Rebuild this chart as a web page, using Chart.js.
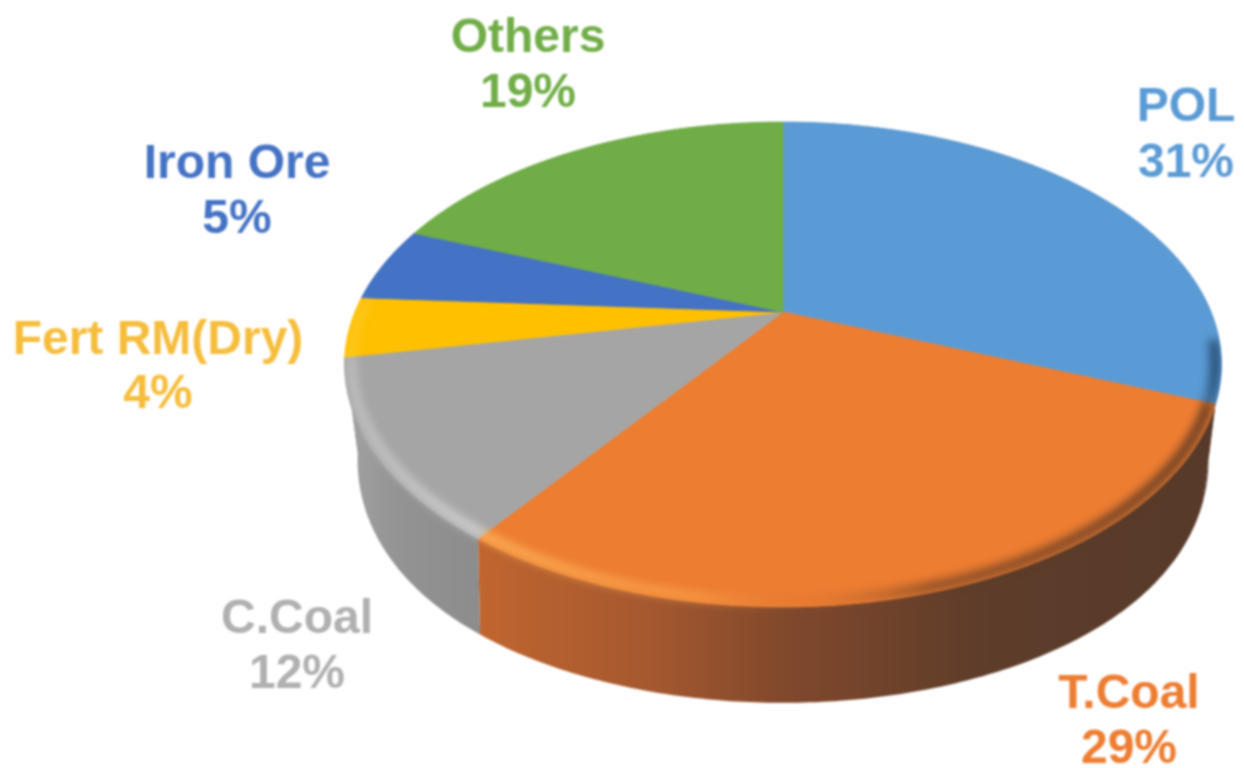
<!DOCTYPE html>
<html>
<head>
<meta charset="utf-8">
<style>
  html, body { margin: 0; background: #fff; }
  canvas { display: block; filter: blur(1px); }
</style>
<script src="https://cdn.jsdelivr.net/npm/chart.js@4"></script>
</head>
<body>
<canvas id="myChart" width="1244" height="768"></canvas>
<script>
const categories = ['POL', 'T.Coal', 'C.Coal', 'Fert RM(Dry)', 'Iron Ore', 'Others'];
const shares = [31, 29, 12, 4, 5, 19];
const sliceColors = ['#5b9bd5', '#ed7d31', '#a5a5a5', '#ffc000', '#4472c4', '#70ad47'];
const textColors = ['#5b9bd5', '#ed7d31', '#b0b0b0', '#f6bd3c', '#4472c4', '#70ad47'];

// label centre x, name baseline, value baseline
const labelSpots = [
    [1186, 121, 177],
    [1129, 708, 763],
    [297, 633, 688],
    [158, 354, 408],
    [237, 178, 233],
    [528, 52, 107]
];

// side wall shading, left to right across the picture
// POL and Fert only show below their neighbours, so they take the neighbour's colour
const wallStops = [
    [[1150, '#573a2a'], [1225, '#573a2a']],
    [[483, '#c0652f'], [650, '#a5582f'], [780, '#82492c'], [980, '#5e3d2a'], [1220, '#573a2a']],
    [[345, '#a2a2a2'], [400, '#939393'], [483, '#8c8c8c']],
    [[345, '#a2a2a2'], [400, '#939393']],
    [[360, '#2f5597'], [420, '#2f5597']],
    [[420, '#507d32'], [780, '#507d32']]
];

// soft band along the rim of the top face
const rimStops = [
    [[1196, 'rgba(20,50,80,0)'], [1220, 'rgba(20,50,80,0.9)']],
    [[483, 'rgba(255,190,95,0.7)'], [700, 'rgba(255,170,80,0.5)'], [810, 'rgba(200,110,50,0.15)'], [930, 'rgba(90,55,35,0.6)'], [1210, 'rgba(90,55,35,0.85)']],
    [[345, 'rgba(255,255,255,0.25)'], [483, 'rgba(255,255,255,0.45)']],
    [[345, 'rgba(255,255,255,0.1)'], [365, 'rgba(255,255,255,0.1)']],
    [[345, 'rgba(0,0,0,0)'], [400, 'rgba(0,0,0,0)']],
    [[345, 'rgba(0,0,0,0)'], [400, 'rgba(0,0,0,0)']]
];

// tilted pie seen in perspective
const cx = 783, cy = 312, spreadX = 428, spreadY = 231, tilt = 0.2165;
const depth = 96, baseShrink = 0.03;

const project = (angle, r = 1) => {
    const u = r * Math.cos(angle), v = r * Math.sin(angle);
    const w = 1 - tilt * v;
    return [cx + spreadX * u / w, cy + spreadY * v / w];
};

// base of the wall pulls in towards the sides
const baseOf = (p) => {
    const side = (p[0] - cx) / 440;
    return [cx + (p[0] - cx) * (1 - baseShrink * side * side * side * side), p[1] + depth];
};

const gradient = (ctx, stops) => {
    const from = stops[0][0], to = stops[stops.length - 1][0];
    const g = ctx.createLinearGradient(from, 0, to, 0);
    stops.forEach(s => g.addColorStop((s[0] - from) / (to - from), s[1]));
    return g;
};

const angleSteps = (start, end) => {
    const n = Math.max(4, Math.ceil((end - start) * 90));
    const list = [];
    for (let i = 0; i <= n; i++) list.push(start + (end - start) * i / n);
    return list;
};

const pie3d = {
    id: 'pie3d',
    beforeDatasetDraw(chart) {
        const ctx = chart.ctx;
        const arcs = chart.getDatasetMeta(0).data;
        const outline = new Path2D();

        // walls first, the top face covers the far side
        arcs.forEach((arc, i) => {
            const top = angleSteps(arc.startAngle, arc.endAngle).map(a => project(a));
            const wall = new Path2D();
            top.forEach((p, j) => j ? wall.lineTo(p[0], p[1]) : wall.moveTo(p[0], p[1]));
            top.slice().reverse().forEach(p => {
                const b = baseOf(p);
                wall.lineTo(b[0], b[1]);
            });
            wall.closePath();
            ctx.fillStyle = gradient(ctx, wallStops[i]);
            ctx.fill(wall);
            outline.addPath(wall);
        });

        // top face
        arcs.forEach(arc => {
            const face = new Path2D();
            face.moveTo(cx, cy);
            angleSteps(arc.startAngle, arc.endAngle).forEach(a => {
                const p = project(a);
                face.lineTo(p[0], p[1]);
            });
            face.closePath();
            ctx.fillStyle = arc.options.backgroundColor;
            ctx.strokeStyle = arc.options.backgroundColor;
            ctx.lineWidth = 1;
            ctx.fill(face);
            ctx.stroke(face);
            outline.addPath(face);
        });

        // rim, kept inside the pie outline
        ctx.save();
        ctx.clip(outline);
        ctx.filter = 'blur(4px)';
        ctx.lineWidth = 11;
        arcs.forEach((arc, i) => {
            const from = Math.max(arc.startAngle, 0.12), to = arc.endAngle;
            if (to <= from || to > Math.PI * 1.52) return;
            ctx.beginPath();
            angleSteps(from, to).forEach((a, j) => {
                const p = project(a, 0.985);
                j ? ctx.lineTo(p[0], p[1]) : ctx.moveTo(p[0], p[1]);
            });
            ctx.strokeStyle = gradient(ctx, rimStops[i]);
            ctx.stroke();
        });
        ctx.restore();

        return false;
    },
    afterDatasetsDraw(chart) {
        const ctx = chart.ctx;
        ctx.save();
        ctx.font = 'bold 48px "Liberation Sans", Arial, sans-serif';
        ctx.textAlign = 'center';
        ctx.textBaseline = 'alphabetic';
        categories.forEach((name, i) => {
            const spot = labelSpots[i];
            ctx.fillStyle = textColors[i];
            ctx.fillText(name, spot[0], spot[1]);
            ctx.fillText(shares[i] + '%', spot[0], spot[2]);
        });
        ctx.restore();
    }
};

new Chart(document.getElementById('myChart'), {
    type: 'pie',
    data: {
        labels: categories,
        datasets: [{ data: shares, backgroundColor: sliceColors, borderWidth: 0 }]
    },
    options: {
        responsive: false,
        animation: false,
        plugins: { legend: { display: false }, tooltip: { enabled: false } }
    },
    plugins: [pie3d]
});
</script>
</body>
</html>
